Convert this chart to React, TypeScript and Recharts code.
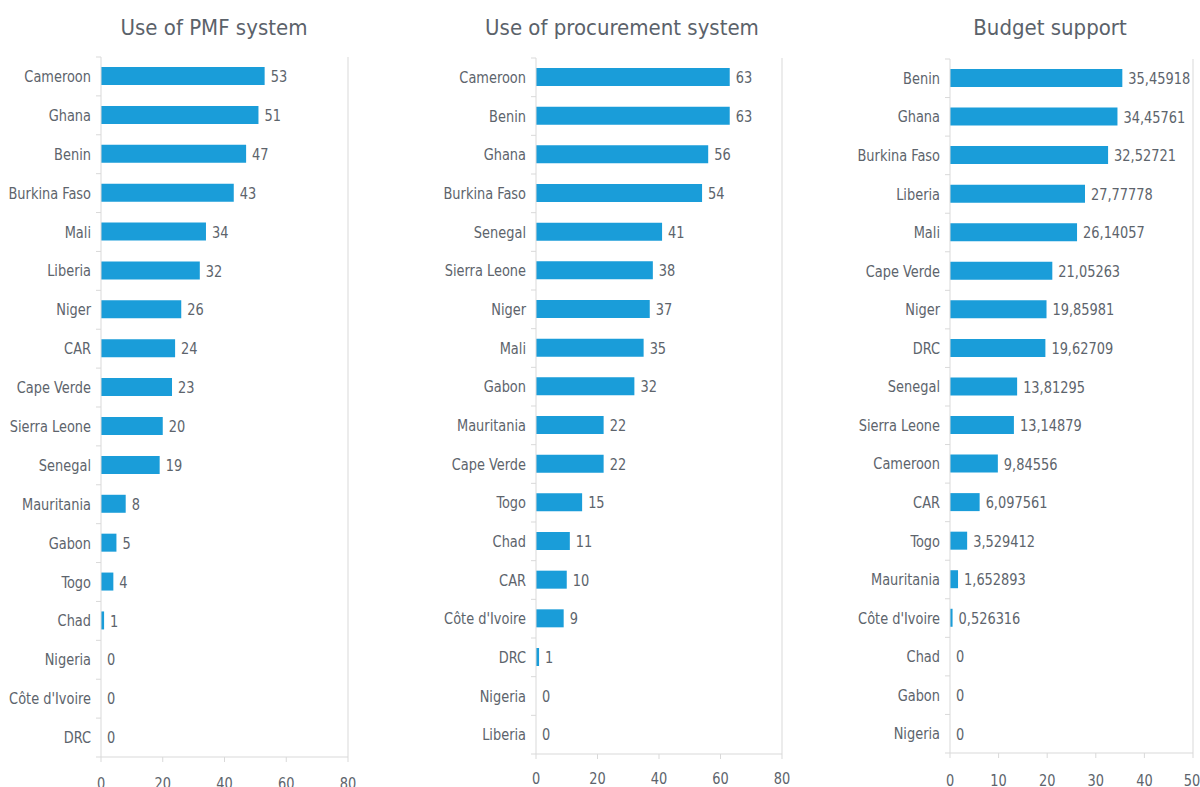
import React from 'react';
import { BarChart, Bar, XAxis, YAxis, LabelList, ReferenceLine } from 'recharts';

// Use of PMF system
const pmfCountries = ['Cameroon', 'Ghana', 'Benin', 'Burkina Faso', 'Mali', 'Liberia', 'Niger', 'CAR', 'Cape Verde', 'Sierra Leone', 'Senegal', 'Mauritania', 'Gabon', 'Togo', 'Chad', 'Nigeria', "Côte d'Ivoire", 'DRC'];
const pmfValues = [53, 51, 47, 43, 34, 32, 26, 24, 23, 20, 19, 8, 5, 4, 1, 0, 0, 0];

// Use of procurement system
const procCountries = ['Cameroon', 'Benin', 'Ghana', 'Burkina Faso', 'Senegal', 'Sierra Leone', 'Niger', 'Mali', 'Gabon', 'Mauritania', 'Cape Verde', 'Togo', 'Chad', 'CAR', "Côte d'Ivoire", 'DRC', 'Nigeria', 'Liberia'];
const procValues = [63, 63, 56, 54, 41, 38, 37, 35, 32, 22, 22, 15, 11, 10, 9, 1, 0, 0];

// Budget support
const budgetCountries = ['Benin', 'Ghana', 'Burkina Faso', 'Liberia', 'Mali', 'Cape Verde', 'Niger', 'DRC', 'Senegal', 'Sierra Leone', 'Cameroon', 'CAR', 'Togo', 'Mauritania', "Côte d'Ivoire", 'Chad', 'Gabon', 'Nigeria'];
const budgetValues = [35.45918, 34.45761, 32.52721, 27.77778, 26.14057, 21.05263, 19.85981, 19.62709, 13.81295, 13.14879, 9.84556, 6.097561, 3.529412, 1.652893, 0.526316, 0, 0, 0];

const ticks80 = [0, 20, 40, 60, 80];
const ticks50 = [0, 10, 20, 30, 40, 50];

const FONT = "'Liberation Sans Narrow', 'DejaVu Sans Condensed', Roboto, sans-serif";
const TEXT = '#5d646c';
const AXIS = '#d9d9d9';
const BLUE = '#1a9dd9';
const SQUEEZE = 0.9; // the original font is narrower than anything installed

const commaFmt = (v: any) => String(v).replace('.', ',');

// text squeezed horizontally around its anchor point
function NarrowText({ x, y, anchor, dy, children }: any) {
  return (
    <text
      transform={`translate(${x},${y}) scale(${SQUEEZE},1)`}
      textAnchor={anchor}
      dy={dy}
      fill={TEXT}
      fontSize={16}
      fontFamily={FONT}
    >
      {children}
    </text>
  );
}

interface PanelProps {
  title: string;
  titleCenter: number;
  left: number;
  width: number;
  yAxisWidth: number;
  marginRight: number;
  plotTop: number;
  plotBottom: number;
  names: string[];
  values: number[];
  max: number;
  ticks: number[];
  tickMargin: number;
}

function Panel(p: PanelProps) {
  const data = p.names.map((name, i) => ({ name, value: p.values[i] }));
  const band = (p.plotBottom - p.plotTop) / data.length;

  const CategoryTick = (props: any) => {
    const { x, y, payload, index } = props;
    return (
      <g>
        <line x1={x - 5} x2={x} y1={y - band / 2} y2={y - band / 2} stroke={AXIS} />
        {index === data.length - 1 && (
          <line x1={x - 5} x2={x} y1={y + band / 2} y2={y + band / 2} stroke={AXIS} />
        )}
        <NarrowText x={x - 10} y={y} anchor="end" dy="0.35em">
          {payload.value}
        </NarrowText>
      </g>
    );
  };

  const ValueTick = (props: any) => {
    const { x, y, payload } = props;
    return (
      <NarrowText x={x} y={y} anchor="middle" dy="0.71em">
        {payload.value}
      </NarrowText>
    );
  };

  const valueLabel = (props: any) => {
    const { x, y, width, height, value } = props;
    return (
      <NarrowText x={x + width + 6} y={y + height / 2} anchor="start" dy="0.38em">
        {commaFmt(value)}
      </NarrowText>
    );
  };

  return (
    <div style={{ position: 'absolute', left: p.left, top: 0 }}>
      <BarChart
        width={p.width}
        height={787}
        data={data}
        layout="vertical"
        margin={{ top: p.plotTop, right: p.marginRight, bottom: 0, left: 0 }}
        barSize={18}
      >
        <XAxis
          type="number"
          domain={[0, p.max]}
          ticks={p.ticks}
          height={787 - p.plotBottom}
          stroke={AXIS}
          tickSize={5}
          tickMargin={p.tickMargin}
          tick={<ValueTick />}
        />
        <YAxis
          type="category"
          dataKey="name"
          width={p.yAxisWidth}
          stroke={AXIS}
          tickLine={false}
          tickSize={0}
          tickMargin={0}
          interval={0}
          tick={<CategoryTick />}
        />
        <ReferenceLine x={p.max} stroke={AXIS} />
        <Bar dataKey="value" fill={BLUE} minPointSize={0.01} isAnimationActive={false}>
          <LabelList dataKey="value" content={valueLabel} />
        </Bar>
      </BarChart>
      <div
        style={{
          position: 'absolute',
          left: p.titleCenter - p.left - 200,
          top: 16,
          width: 400,
          textAlign: 'center',
          fontFamily: FONT,
          fontSize: 22,
          lineHeight: '24px',
          color: '#5b626a',
        }}
      >
        {p.title}
      </div>
    </div>
  );
}

export default function App() {
  return (
    <div style={{ position: 'absolute', left: 0, top: 0, width: 1200, height: 787, overflow: 'hidden', background: '#fff' }}>
      <Panel
        title="Use of PMF system"
        titleCenter={214}
        left={0}
        width={360}
        yAxisWidth={101}
        marginRight={12}
        plotTop={57}
        plotBottom={757}
        names={pmfCountries}
        values={pmfValues}
        max={80}
        ticks={ticks80}
        tickMargin={16}
      />
      <Panel
        title="Use of procurement system"
        titleCenter={622}
        left={420}
        width={380}
        yAxisWidth={116}
        marginRight={18}
        plotTop={58}
        plotBottom={754}
        names={procCountries}
        values={procValues}
        max={80}
        ticks={ticks80}
        tickMargin={14}
      />
      <Panel
        title="Budget support"
        titleCenter={1050}
        left={820}
        width={380}
        yAxisWidth={130}
        marginRight={7}
        plotTop={59}
        plotBottom={753}
        names={budgetCountries}
        values={budgetValues}
        max={50}
        ticks={ticks50}
        tickMargin={17}
      />
    </div>
  );
}
